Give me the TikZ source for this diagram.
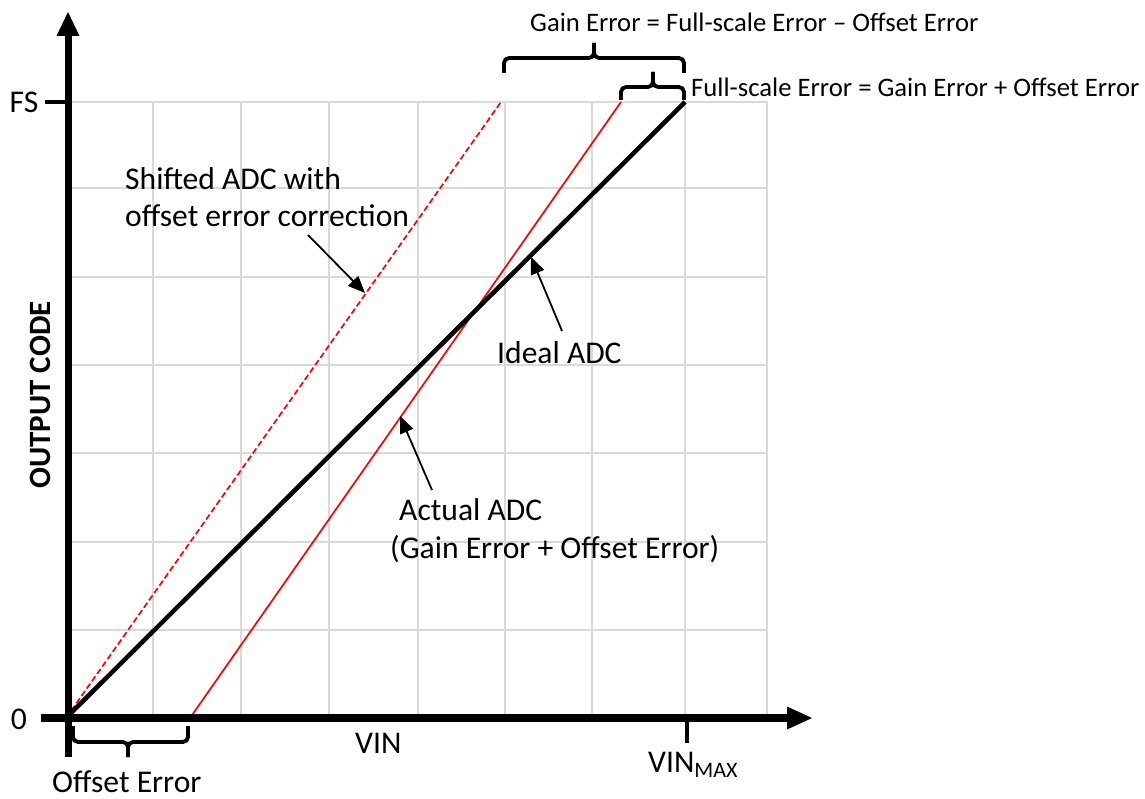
\documentclass[tikz,border=0pt]{standalone}
\usepackage{fontspec}
\setmainfont{Carlito}
\usetikzlibrary{arrows.meta}
\begin{document}
\begin{tikzpicture}[x=1pt,y=-1pt,
  gridline/.style={draw=gridgray,line width=2.4},
  lbl/.style={inner sep=0pt,font=\fontsize{31.6}{37}\selectfont},
  smalllbl/.style={inner sep=0pt,font=\fontsize{26.7}{31}\selectfont},
  pointer/.style={line width=1.8,-{Triangle[length=17pt,width=14pt]}},
  bracestyle/.style={line width=3.8,rounded corners=5pt},
  idealline/.style={line width=4.5,black},
  actualline/.style={line width=1.7,red},
  shiftline/.style={line width=1.7,red,dash pattern=on 6pt off 3pt}]
\definecolor{gridgray}{HTML}{D9D9D9}
\useasboundingbox (0,0) rectangle (1145,799);
% grid
\foreach \y in {102,188,277,365,453,542,630} {\draw[gridline] (66,\y) -- (768,\y);}
\foreach \x in {153,241,329,418,505,592,685,767} {\draw[gridline] (\x,102) -- (\x,718);}
% lines
\coordinate (O) at (66,718);
\coordinate (idealtop) at (685,102);
\coordinate (actbot) at (190,718);
\coordinate (acttop) at (621,102);
\coordinate (shifttop) at (501,102);
\draw[shiftline] (O) -- (shifttop);
\draw[actualline] (actbot) -- (acttop);
\draw[idealline] (O) -- (idealtop);
% axes
\draw[line width=7] (68,757) -- (68,32);
\fill (56.5,36) -- (79.5,36) -- (68,12) -- cycle;
\draw[line width=8] (41,718) -- (790,718);
\fill (787,706.5) -- (787,729.5) -- (812,718) -- cycle;
\draw[line width=4] (45,102) -- (68,102);
\draw[line width=4] (687,718) -- (687,743);
% axis labels
\node[lbl] (fs) at (24,102) {FS};
\node[lbl] (zero) at (19,719) {0};
\node[lbl,font=\fontsize{31}{37}\selectfont\bfseries,rotate=90] (ylab) at (40,395) {OUTPUT CODE};
\node[lbl,anchor=base west] (vin) at (355,753) {VIN};
\node[lbl,anchor=base west] (vinmax) at (648,772) {VIN\textsubscript{MAX}};
\node[lbl,anchor=base west] (offerr) at (52,792) {Offset Error};
% braces
\draw[bracestyle] (73,726) |- (128,742) -- (128,757);
\draw[bracestyle] (188,726) |- (128,742) -- (128,757);
\draw[bracestyle] (504,73) |- (594,58) -- (594,43);
\draw[bracestyle] (684,73) |- (594,58) -- (594,43);
\draw[bracestyle] (621,100) |- (653,87) -- (653,72);
\draw[bracestyle] (684,100) |- (653,87) -- (653,72);
\node[smalllbl,anchor=base west] (gainerr) at (530,32) {Gain Error = Full-scale Error – Offset Error};
\node[smalllbl,anchor=base west] (fserr) at (691,97) {Full-scale Error = Gain Error + Offset Error};
% annotations
\node[lbl,anchor=base west] (shift1) at (125,190) {Shifted ADC with};
\node[lbl,anchor=base west] (shift2) at (125,227) {offset error correction};
\node[lbl,anchor=base west] (ideal) at (497,363) {Ideal ADC};
\node[lbl,anchor=base west] (actual1) at (399,520) {Actual ADC};
\node[lbl,anchor=base west] (actual2) at (390,558) {(Gain Error + Offset Error)};
\coordinate (shiftTail) at (308,235);
\coordinate (shiftTip) at (365,293);
\coordinate (idealTail) at (562,331);
\coordinate (idealTip) at (531,257);
\coordinate (actTail) at (432,490);
\coordinate (actTip) at (400,416);
\draw[pointer] (shiftTail) -- (shiftTip);
\draw[pointer] (idealTail) -- (idealTip);
\draw[pointer] (actTail) -- (actTip);
\end{tikzpicture}
\end{document}
